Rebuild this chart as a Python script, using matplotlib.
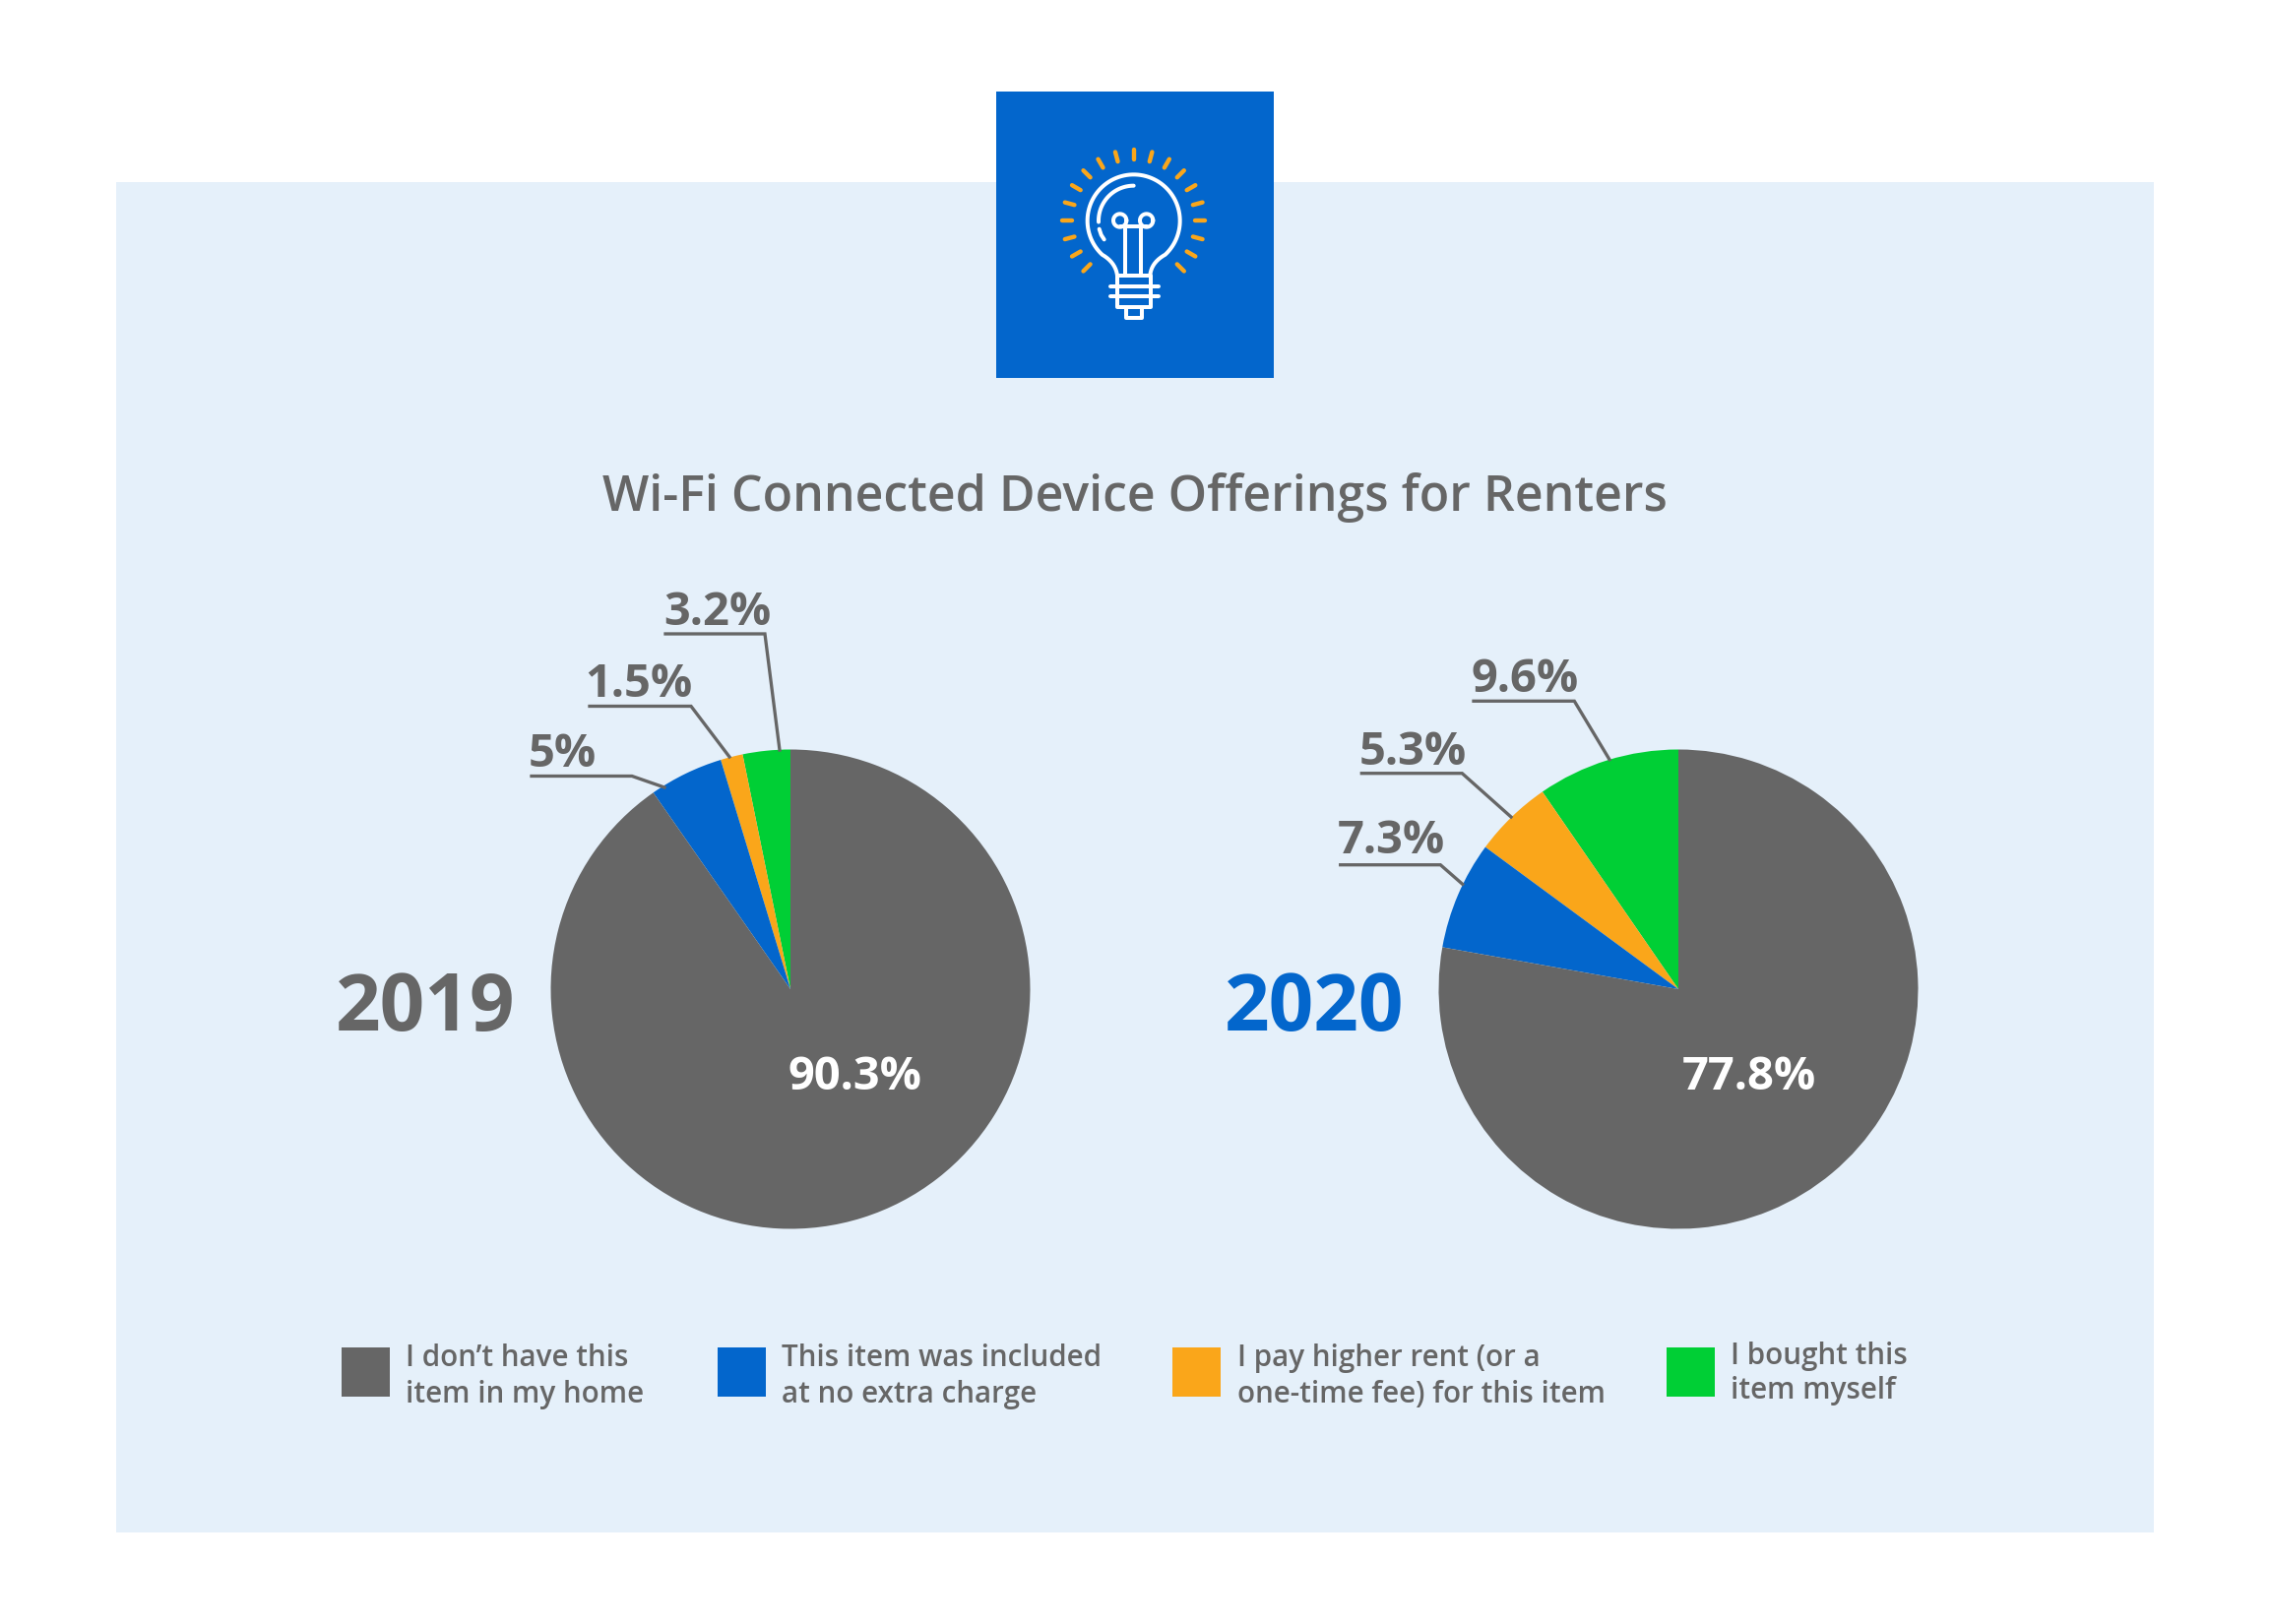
import numpy as np
import matplotlib
matplotlib.use("Agg")
import matplotlib.pyplot as plt
from matplotlib.patches import Rectangle

W, H = 2306, 1650
plt.rcParams['font.family'] = ['Open Sans', 'DejaVu Sans']

title = "Wi-Fi Connected Device Offerings for Renters"
years = ["2019", "2020"]
segments = ["I bought this\nitem myself",
            "I pay higher rent (or a\none-time fee) for this item",
            "This item was included\nat no extra charge",
            "I don\u2019t have this\nitem in my home"]
values_2019 = [3.2, 1.5, 5, 90.3]
values_2020 = [9.6, 5.3, 7.3, 77.8]
labels_2019 = ["3.2%", "1.5%", "5%", "90.3%"]
labels_2020 = ["9.6%", "5.3%", "7.3%", "77.8%"]

GRAY, BLUE, ORANGE, GREEN = "#666666", "#0366CC", "#FAA61A", "#00CF35"
PANEL = "#E5F0FA"
colors = [GREEN, ORANGE, BLUE, GRAY]
px = 0.72  # pixels to points at dpi 100

fig = plt.figure(figsize=(W/100, H/100), dpi=100, facecolor="white")
ax = fig.add_axes([0, 0, 1, 1])
ax.set_xlim(0, W); ax.set_ylim(H, 0); ax.axis("off")

ax.add_patch(Rectangle((118, 185), 2070, 1372, fc=PANEL, ec="none", zorder=0))
ax.add_patch(Rectangle((1012, 93), 282, 291, fc=BLUE, ec="none", zorder=1))

# icon
def z(x, y):
    return 1000 + np.asarray(x)/3, 80 + np.asarray(y)/3
def arc(cx, cy, r, a0, a1, n=80):
    t = np.radians(np.linspace(a0, a1, n))
    return cx + r*np.cos(t), cy - r*np.sin(t)
def bez(p0, p1, p2, n=30):
    t = np.linspace(0, 1, n)[:, None]
    p = (1-t)**2*np.array(p0) + 2*t*(1-t)*np.array(p1) + t**2*np.array(p2)
    return p[:, 0], p[:, 1]
def wline(xs, ys, color="white", lw=4.0):
    X, Y = z(xs, ys)
    ax.plot(X, Y, color=color, lw=lw*px, solid_capstyle="round", solid_joinstyle="round", zorder=3)

for a in [90, 75, 60, 45, 30, 15, 0, -15, -30, -45, 105, 120, 135, 150, 165, 180, 195, 210, 225]:
    c, s = np.cos(np.radians(a)), np.sin(np.radians(a))
    wline([455+187*c, 455+217*c], [433-187*s, 433-217*s], color=ORANGE, lw=4.4)
ax_, ay_ = arc(455, 433, 141, -47, 227)
lx, ly = bez((ax_[-1], ay_[-1]), (400, 560), (405, 600))
rx, ry = bez((505, 600), (508, 560), (ax_[0], ay_[0]))
wline(np.r_[rx, ax_, lx], np.r_[ry, ay_, ly])
wline([405, 508, 508, 405, 405], [600, 600, 697, 697, 600])
wline([384, 530], [633, 633]); wline([384, 530], [664, 664])
wline([433, 433, 480, 480], [697, 730, 730, 697])
wline([430, 430], [450, 600]); wline([478, 478], [450, 600]); wline([413, 494], [450, 450])
for cx in (413, 494):
    wline(*arc(cx, 432, 20, 0, 360))
wline(*arc(455, 433, 107, 90, 182))
wline([350, 356, 365], [458, 476, 490])

ax.text(1153, 519, title, ha="center", va="baseline", color=GRAY, fontsize=50*px, fontweight="semibold")

# pies
cy, r = 1005, 243.5
for cx, vals in ((803, values_2019), (1705, values_2020)):
    pa = fig.add_axes([(cx-r)/W, 1-(cy+r)/H, 2*r/W, 2*r/H])
    pa.pie(vals, colors=colors, startangle=90, counterclock=True, radius=1)
    pa.set_xlim(-1, 1); pa.set_ylim(-1, 1); pa.set_aspect("equal"); pa.patch.set_alpha(0)
    pa.set_zorder(2)

# overlay for labels above pies
ov = fig.add_axes([0, 0, 1, 1], zorder=5)
ov.set_xlim(0, W); ov.set_ylim(H, 0); ov.axis("off"); ov.patch.set_alpha(0)

label_layout_2019 = [((676, 644), (777, 644), (792, 762), 674, 635),
                     ((599, 717.5), (702, 717.5), (741, 769), 594, 708),
                     ((540, 788.5), (642, 788.5), (675, 800), 537, 779)]
label_layout_2020 = [((1497, 712.3), (1599.3, 712.3), (1635, 771.7), 1495, 702.7),
                     ((1383.3, 785.7), (1485.3, 785.7), (1535, 830), 1381, 776.7),
                     ((1361.7, 878.7), (1463.3, 878.7), (1485.7, 898.3), 1359, 867)]
for labs, lay in ((labels_2019, label_layout_2019), (labels_2020, label_layout_2020)):
    for lab, (a, b, c, tx, ty) in zip(labs, lay):
        ov.plot([a[0], b[0], c[0]], [a[1], b[1], c[1]], color=GRAY, lw=3.3*px, solid_joinstyle="miter")
        ov.text(tx, ty, lab, ha="left", va="baseline", color=GRAY, fontsize=47*px, fontweight="bold")

ov.text(801, 1107, labels_2019[3], ha="left", va="baseline", color="white", fontsize=47*px, fontweight="bold")
ov.text(1709, 1107, labels_2020[3], ha="left", va="baseline", color="white", fontsize=47*px, fontweight="bold")

ov.text(341, 1047, years[0], ha="left", va="baseline", color=GRAY, fontsize=80*px, fontweight="bold")
ov.text(1244, 1047, years[1], ha="left", va="baseline", color=BLUE, fontsize=80*px, fontweight="bold")

# legend
leg = [(3, 347, 1369, 411.5, 1388, 37), (2, 729, 1369, 794, 1388, 37),
       (1, 1191, 1369, 1257, 1388, 37), (0, 1693, 1369, 1757.5, 1386, 35)]
for i, sx, sy, tx, ty, gap in leg:
    ov.add_patch(Rectangle((sx, sy), 49, 50, fc=colors[i], ec="none"))
    a, b = segments[i].split("\n")
    ov.text(tx, ty, a, color=GRAY, fontsize=29.6*px, fontweight="semibold", va="baseline")
    ov.text(tx, ty+gap, b, color=GRAY, fontsize=29.6*px, fontweight="semibold", va="baseline")

fig.savefig("out.png", dpi=100, facecolor="white")
